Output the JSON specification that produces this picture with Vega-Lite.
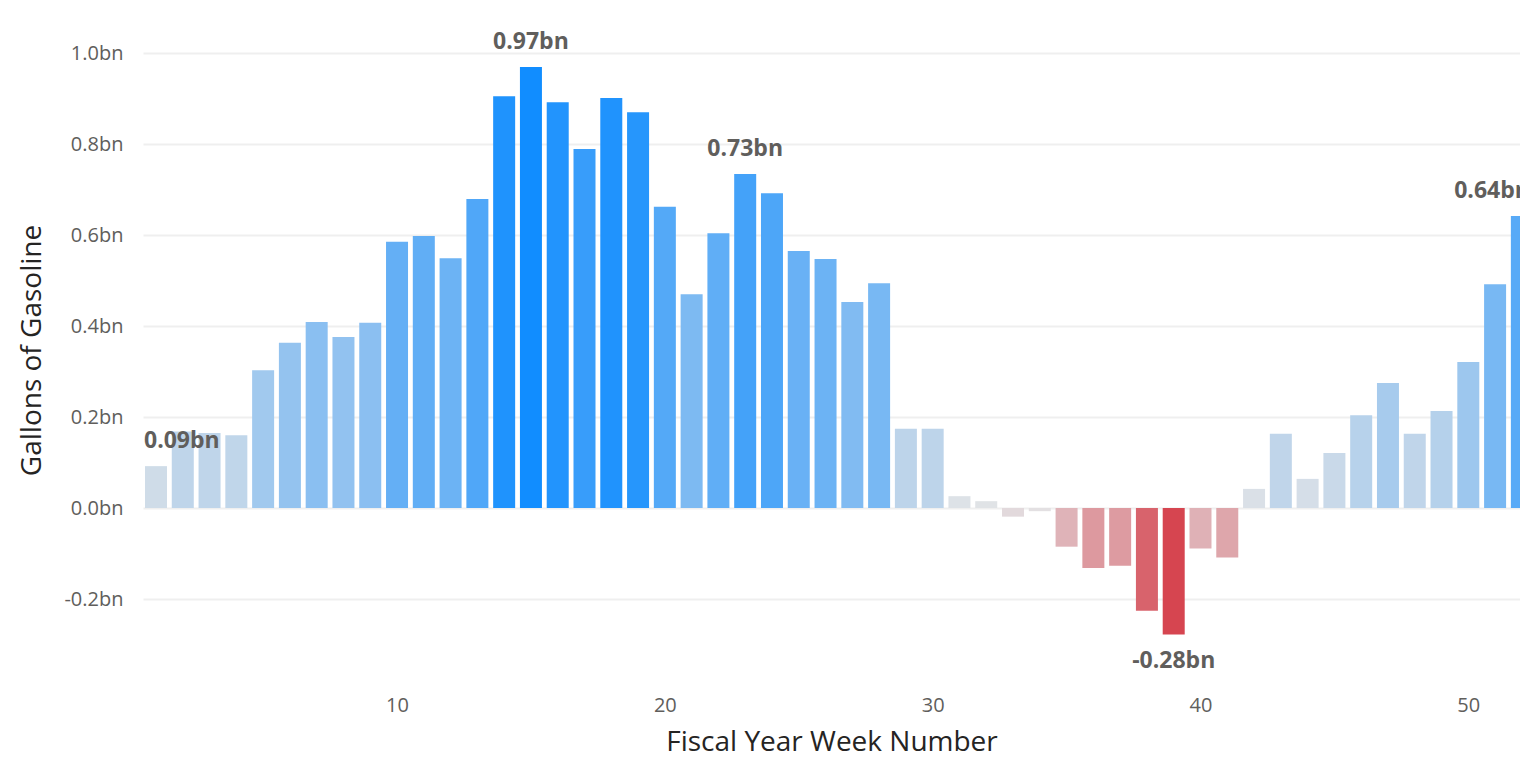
{
  "$schema": "https://vega.github.io/schema/vega-lite/v6.json",
  "autosize": {"type": "none"},
  "padding": {"left": 143, "top": 53, "right": 0, "bottom": 71},
  "width": 1377,
  "height": 637,
  "background": "white",
  "config": {
    "view": {"stroke": null},
    "font": "Open Sans",
    "axis": {"labelFont": "Open Sans", "titleFont": "Open Sans"}
  },
  "data": {
    "values": [
      {"week": 1, "value": 0.092, "label": "0.09bn"},
      {"week": 2, "value": 0.168, "label": ""},
      {"week": 3, "value": 0.165, "label": ""},
      {"week": 4, "value": 0.160, "label": ""},
      {"week": 5, "value": 0.303, "label": ""},
      {"week": 6, "value": 0.363, "label": ""},
      {"week": 7, "value": 0.409, "label": ""},
      {"week": 8, "value": 0.376, "label": ""},
      {"week": 9, "value": 0.407, "label": ""},
      {"week": 10, "value": 0.585, "label": ""},
      {"week": 11, "value": 0.598, "label": ""},
      {"week": 12, "value": 0.549, "label": ""},
      {"week": 13, "value": 0.679, "label": ""},
      {"week": 14, "value": 0.905, "label": ""},
      {"week": 15, "value": 0.969, "label": "0.97bn"},
      {"week": 16, "value": 0.892, "label": ""},
      {"week": 17, "value": 0.789, "label": ""},
      {"week": 18, "value": 0.901, "label": ""},
      {"week": 19, "value": 0.870, "label": ""},
      {"week": 20, "value": 0.662, "label": ""},
      {"week": 21, "value": 0.470, "label": ""},
      {"week": 22, "value": 0.604, "label": ""},
      {"week": 23, "value": 0.734, "label": "0.73bn"},
      {"week": 24, "value": 0.692, "label": ""},
      {"week": 25, "value": 0.565, "label": ""},
      {"week": 26, "value": 0.547, "label": ""},
      {"week": 27, "value": 0.453, "label": ""},
      {"week": 28, "value": 0.494, "label": ""},
      {"week": 29, "value": 0.174, "label": ""},
      {"week": 30, "value": 0.174, "label": ""},
      {"week": 31, "value": 0.026, "label": ""},
      {"week": 32, "value": 0.015, "label": ""},
      {"week": 33, "value": -0.019, "label": ""},
      {"week": 34, "value": -0.007, "label": ""},
      {"week": 35, "value": -0.085, "label": ""},
      {"week": 36, "value": -0.132, "label": ""},
      {"week": 37, "value": -0.127, "label": ""},
      {"week": 38, "value": -0.226, "label": ""},
      {"week": 39, "value": -0.278, "label": "-0.28bn"},
      {"week": 40, "value": -0.089, "label": ""},
      {"week": 41, "value": -0.109, "label": ""},
      {"week": 42, "value": 0.042, "label": ""},
      {"week": 43, "value": 0.163, "label": ""},
      {"week": 44, "value": 0.064, "label": ""},
      {"week": 45, "value": 0.121, "label": ""},
      {"week": 46, "value": 0.204, "label": ""},
      {"week": 47, "value": 0.275, "label": ""},
      {"week": 48, "value": 0.163, "label": ""},
      {"week": 49, "value": 0.213, "label": ""},
      {"week": 50, "value": 0.321, "label": ""},
      {"week": 51, "value": 0.492, "label": ""},
      {"week": 52, "value": 0.642, "label": "0.64bn"}
    ]
  },
  "encoding": {
    "x": {
      "field": "week",
      "type": "quantitative",
      "scale": {"domain": [0.515, 51.93], "nice": false, "zero": false, "padding": 0},
      "axis": {
        "values": [10, 20, 30, 40, 50],
        "grid": false,
        "domain": false,
        "ticks": false,
        "labelFontSize": 20,
        "labelColor": "#605E5C",
        "labelPadding": 5,
        "title": "Fiscal Year Week Number",
        "titleFontSize": 28,
        "titleFontWeight": "normal",
        "titleColor": "#252423",
        "titlePadding": 13
      }
    },
    "y": {
      "field": "value",
      "type": "quantitative",
      "scale": {"domain": [-0.4, 1.0], "nice": false, "zero": false, "padding": 0},
      "axis": {
        "values": [-0.2, 0, 0.2, 0.4, 0.6, 0.8, 1.0],
        "labelExpr": "(datum.value < 0 ? '-' : '') + format(abs(datum.value), '.1f') + 'bn'",
        "grid": true,
        "gridColor": "#EFEFEF",
        "gridWidth": 2,
        "domain": false,
        "ticks": false,
        "labelFontSize": 20,
        "labelColor": "#605E5C",
        "labelPadding": 20,
        "title": "Gallons of Gasoline",
        "titleFontSize": 28,
        "titleFontWeight": "normal",
        "titleColor": "#252423",
        "titlePadding": 17,
        "titleY": 297
      }
    }
  },
  "layer": [
    {
      "mark": {"type": "bar", "width": 22, "clip": true},
      "encoding": {
        "y2": {"datum": 0},
        "color": {
          "field": "value",
          "type": "quantitative",
          "scale": {
            "domain": [-0.278, 0, 0.969],
            "range": ["#D64550", "#E3E4E6", "#118DFF"],
            "interpolate": "rgb"
          },
          "legend": null
        }
      }
    },
    {
      "transform": [{"filter": "datum.label != '' && datum.value > 0 && datum.week > 1 && datum.week < 52"}],
      "mark": {"type": "text", "baseline": "bottom", "dy": -13, "fontSize": 23, "fontWeight": "bold", "color": "#605E5C"},
      "encoding": {"text": {"field": "label"}}
    },
    {
      "transform": [{"filter": "datum.label != '' && datum.week == 1"}],
      "mark": {"type": "text", "baseline": "bottom", "align": "left", "dx": -12, "dy": -13, "fontSize": 23, "fontWeight": "bold", "color": "#605E5C"},
      "encoding": {"text": {"field": "label"}}
    },
    {
      "transform": [{"filter": "datum.label != '' && datum.week == 52"}],
      "mark": {"type": "text", "baseline": "bottom", "align": "right", "dx": 8, "dy": -13, "fontSize": 23, "fontWeight": "bold", "color": "#605E5C"},
      "encoding": {"text": {"field": "label"}}
    },
    {
      "transform": [{"filter": "datum.label != '' && datum.value < 0"}],
      "mark": {"type": "text", "baseline": "top", "dy": 16, "fontSize": 23, "fontWeight": "bold", "color": "#605E5C"},
      "encoding": {"text": {"field": "label"}}
    }
  ]
}
